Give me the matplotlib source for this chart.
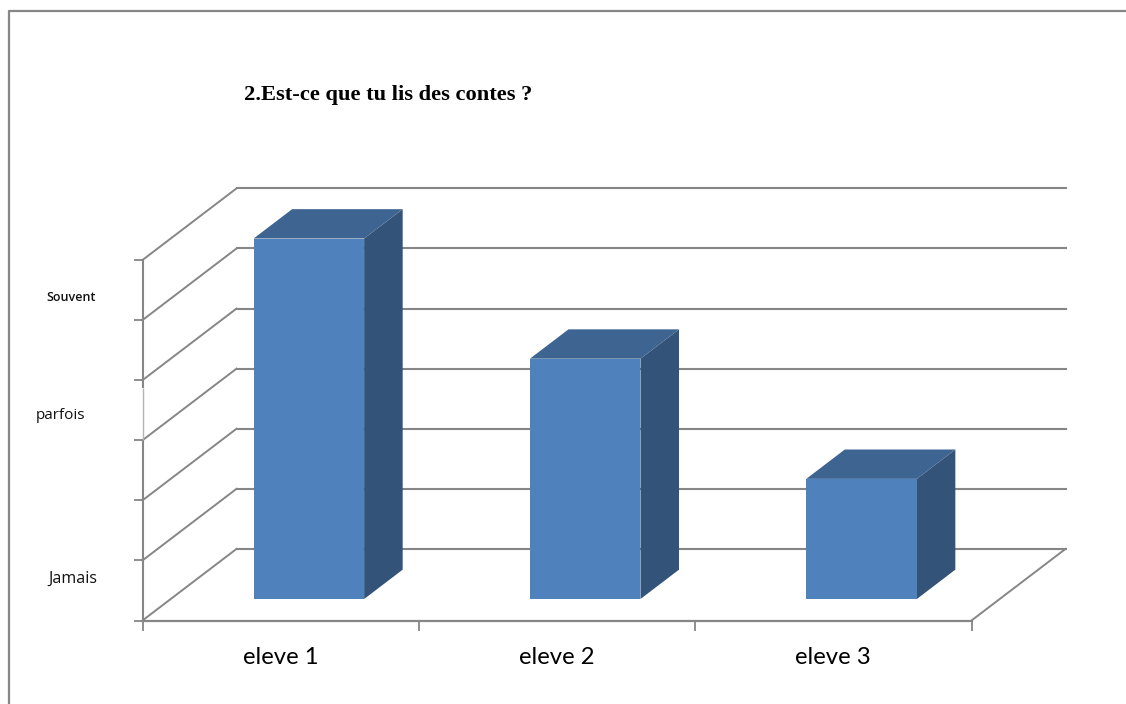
import matplotlib
matplotlib.use("Agg")
import matplotlib.pyplot as plt
from matplotlib.lines import Line2D
from matplotlib.patches import Polygon

# ---- data ----
categories = ["eleve 1", "eleve 2", "eleve 3"]
values = [6, 4, 2]
level_ticks = [0, 1, 2, 3, 4, 5, 6]
level_labels = ["Jamais", "parfois", "Souvent"]
level_label_pos = [0.7, 3.42, 5.37]
title = "2.Est-ce que tu lis des contes ?"

# ---- style ----
W, H = 1126, 704
GRID = "#868686"
FRONT, TOP, SIDE = "#4F81BD", "#3E6491", "#335379"
BAR_W = 0.40
Z0, Z1 = 0.30, 0.71
DX, DY = 94.0 / 276.3, 71.5 / 60.0


def proj(x, y, z):
    return x + z * DX, y + z * DY


fig = plt.figure(figsize=(W / 100, H / 100), dpi=100, facecolor="white")
left, right, top, bottom = 142.5, 971.5, 260.0, 620.5
ax = fig.add_axes([left / W, 1 - bottom / H, (right - left) / W, (bottom - top) / H])
ax.set_xlim(0, len(categories))
ax.set_ylim(0, level_ticks[-1])
ax.patch.set_alpha(0)

# outer frame
fig.add_artist(Line2D([9 / W, 9 / W, 1], [0, 1 - 11 / H, 1 - 11 / H], color=GRID, lw=1.6,
                      transform=fig.transFigure))

n = len(categories)
# back wall, side wall and floor lines
for lv in level_ticks:
    x0, y0 = proj(0, lv, 0)
    x1, y1 = proj(0, lv, 1)
    ax.plot([x0, x1], [y0, y1], color=GRID, lw=1.4, clip_on=False, zorder=2)
    x2, y2 = proj(n, lv, 1)
    ax.plot([x1, x2], [y1, y2], color=GRID, lw=1.5, clip_on=False, zorder=2)
fx0, fy0 = proj(n, 0, 0)
fx1, fy1 = proj(n, 0, 1)
ax.plot([fx0, fx1], [fy0, fy1], color=GRID, lw=1.4, clip_on=False, zorder=2)

# bars
for i, v in enumerate(values):
    c = i + 0.5
    a, b = c - BAR_W / 2, c + BAR_W / 2
    front = [proj(a, 0, Z0), proj(b, 0, Z0), proj(b, v, Z0), proj(a, v, Z0)]
    roof = [proj(a, v, Z0), proj(b, v, Z0), proj(b, v, Z1), proj(a, v, Z1)]
    side = [proj(b, 0, Z0), proj(b, 0, Z1), proj(b, v, Z1), proj(b, v, Z0)]
    ax.add_patch(Polygon(side, closed=True, fc=SIDE, ec="none", clip_on=False, zorder=3))
    ax.add_patch(Polygon(roof, closed=True, fc=TOP, ec="none", clip_on=False, zorder=3))
    ax.add_patch(Polygon(front, closed=True, fc=FRONT, ec="none", clip_on=False, zorder=4))

# axes
for s in ("top", "right", "left"):
    ax.spines[s].set_visible(False)
ax.spines["bottom"].set_color(GRID)
ax.spines["bottom"].set_linewidth(1.6)
ax.vlines(0, 0, 3, color=GRID, lw=1.5, clip_on=False, zorder=2)
ax.vlines(0, 3, 3.87, color="#B4B4B4", lw=1.0, clip_on=False, zorder=2)
ax.vlines(0, 3.87, 6, color=GRID, lw=1.5, clip_on=False, zorder=2)

ax.set_xticks(range(n + 1), [""] * (n + 1))
ax.set_xticks([i + 0.5 for i in range(n)], categories, minor=True)
ax.tick_params(axis="x", which="major", length=7.5, width=1.3, color=GRID)
ax.tick_params(axis="x", which="minor", length=0, pad=19)
for lab in ax.get_xticklabels(minor=True):
    lab.set_fontfamily("Lato")
    lab.set_fontsize(17.2)
    lab.set_color("black")

ax.set_yticks(level_ticks, [""] * len(level_ticks))
ax.tick_params(axis="y", which="major", length=6.5, width=1.3, color=GRID)
ax.yaxis.get_major_ticks()[3].tick1line.set_color("#D8D8D8")

label_x = [-0.253, -0.297, -0.257]
label_size = [11.6, 11, 9]
label_weight = ["normal", "normal", "semibold"]
for txt, pos, lx, fs, w in zip(level_labels, level_label_pos, label_x, label_size, label_weight):
    ax.text(lx, pos, txt, ha="center", va="center", fontsize=fs, weight=w,
            family="Open Sans", color="#111111", clip_on=False)

fig.text(388 / W, 1 - 95 / H, title, ha="center", va="center", family="Liberation Serif",
         weight="bold", fontsize=16.2, color="black")

fig.savefig("out.png", dpi=100)
